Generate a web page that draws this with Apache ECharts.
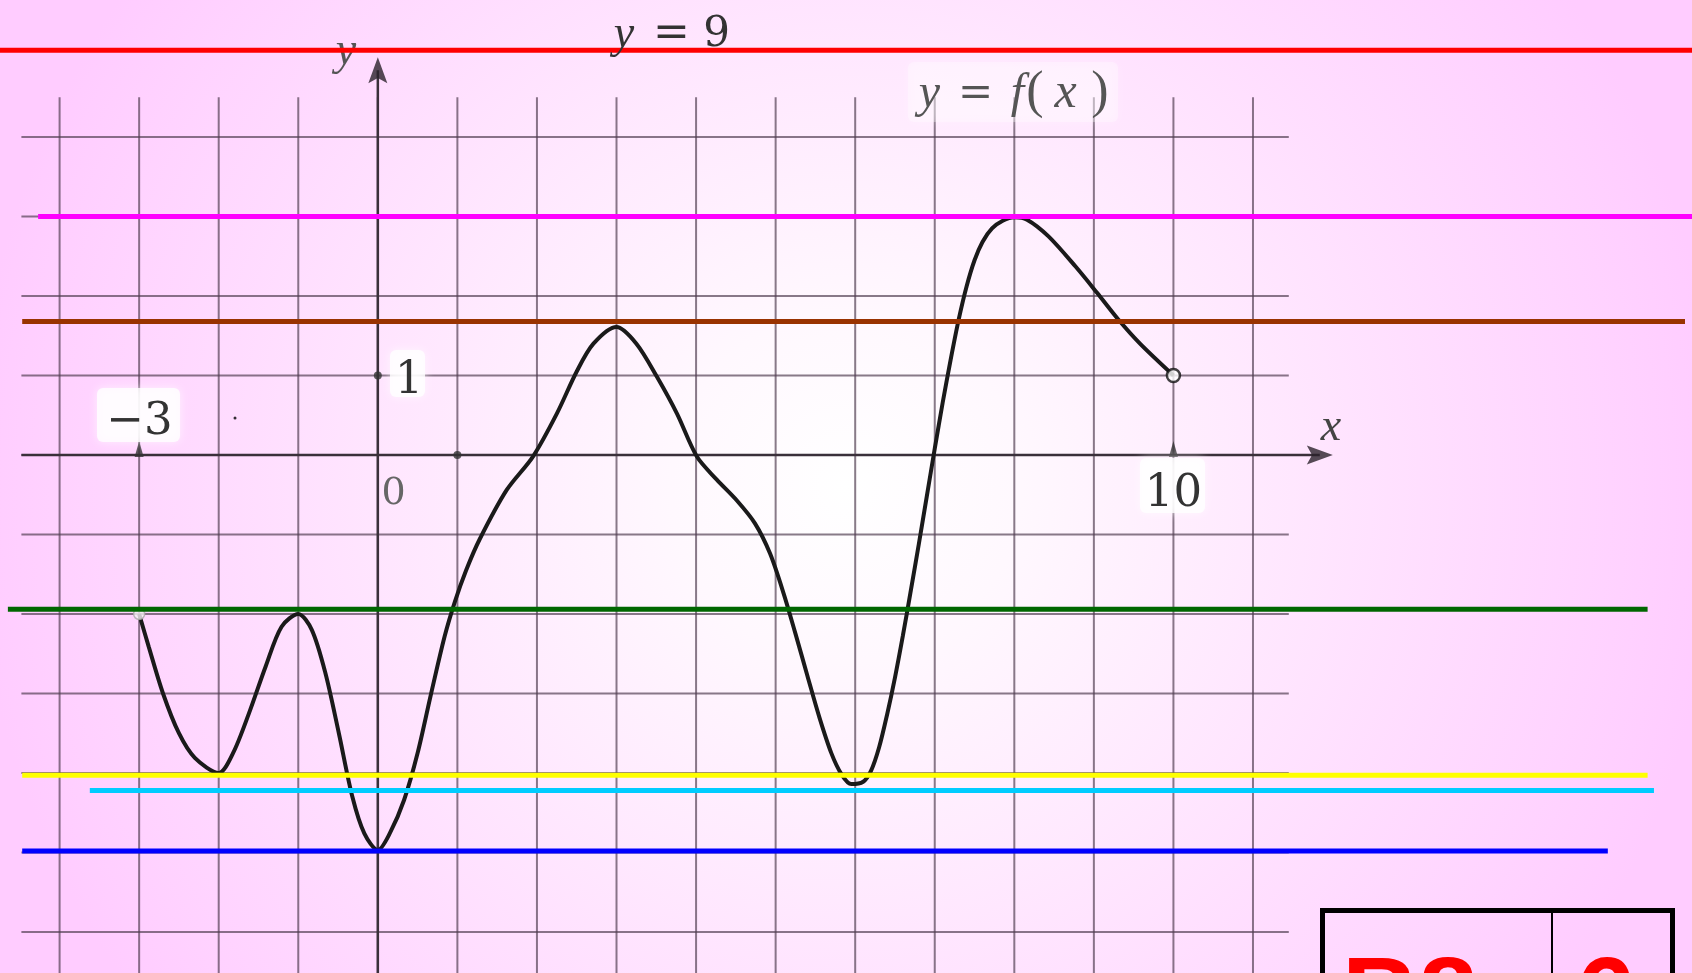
<!DOCTYPE html>
<html>
<head>
<meta charset="utf-8">
<script src="https://cdn.jsdelivr.net/npm/echarts@6/dist/echarts.min.js"></script>
<style>
  html, body { margin: 0; padding: 0; }
  #chart { width: 1692px; height: 973px; }
</style>
</head>
<body>
<div id="chart"></div>
<script>
// график y = f(x), одна клетка = одна единица
const curveX = [-3, -2.88, -2.7, -2.5, -2.3, -2, -1.82, -1.62, -1.41, -1.21, -1, -0.83, -0.66, -0.49, -0.32,
  -0.17, 0, 0.15, 0.33, 0.5, 0.67, 0.84, 0.97, 1.11, 1.28, 1.62, 1.95, 2.25, 2.5, 2.71, 3, 3.25, 3.51, 3.76,
  4.01, 4.26, 4.51, 4.74, 4.93, 5.1, 5.25, 5.4, 5.55, 5.7, 5.83, 5.95, 6.1, 6.2, 6.3, 6.4, 6.5, 6.6, 6.7,
  6.8, 6.9, 7, 7.1, 7.2, 7.3, 7.4, 7.5, 7.6, 7.72, 7.86, 8, 8.16, 8.43, 8.77, 9.04, 9.31, 9.58, 10];
const curveY = [-2, -2.41, -3, -3.5, -3.81, -4, -3.75, -3.25, -2.66, -2.16, -2, -2.2, -2.74, -3.5, -4.3,
  -4.76, -4.97, -4.76, -4.34, -3.75, -3, -2.28, -1.84, -1.45, -1.06, -0.44, -0.02, 0.52, 1.05, 1.4, 1.61, 1.4,
  0.98, 0.52, -0.02, -0.31, -0.57, -0.86, -1.24, -1.74, -2.25, -2.78, -3.3, -3.75, -4.02, -4.14, -4.11, -3.97,
  -3.68, -3.27, -2.8, -2.27, -1.7, -1.12, -0.52, 0.08, 0.66, 1.2, 1.7, 2.12, 2.45, 2.68, 2.85, 2.95, 2.99,
  2.96, 2.75, 2.37, 2.04, 1.7, 1.4, 1];

// концы графика: (-3; -2) и (10; 1) - выколотые
const openPoints = [[-3, -2], [10, 1]];

// цветные горизонтальные прямые y = a
const levelY = [5.09, 3.0, 1.68, -1.94, -4.03, -4.22, -4.98];
const levelFrom = [-4.75, -4.27, -4.47, -4.65, -4.47, -3.62, -4.47];
const levelTo = [16.52, 16.52, 16.43, 15.96, 15.96, 16.04, 15.46];
const levelColors = ['#ff0000', '#ff00ff', '#993300', '#006600', '#ffff00', '#00ccff', '#0000ff'];

// клетки
const gridXs = [-4, -3, -2, -1, 0, 1, 2, 3, 4, 5, 6, 7, 8, 9, 10, 11];
const gridYs = [-6, -5, -4, -3, -2, -1, 0, 1, 2, 3, 4];

// отметки на осях
const axisDots = [[1, 0], [0, 1]];
const axisTicks = [[-3, 0], [10, 0]];

// видимая область в единицах графика (весь холст)
const xMin = -4.749, xMax = 16.518, yMin = -6.516, yMax = 5.723;
const cellLeft = -4.48, cellRight = 11.45, cellTop = 4.5, cellBottom = -7;

const SERIF = '"Liberation Serif"';
const DEJAVU = '"DejaVu Serif"';
const ARROW = 'path://M0,0 L6,20 L0,16 L-6,20 Z';

const chart = echarts.init(document.getElementById('chart'));

const seg = (data, color, width, z) => ({
  type: 'line', data, symbol: 'none', silent: true, z,
  lineStyle: { color, width }
});

const series = [];
gridXs.forEach(x => series.push(seg([[x, cellBottom], [x, cellTop]], 'rgba(80,60,80,0.68)', 2, 1)));
gridYs.forEach(y => series.push(seg([[cellLeft, y], [cellRight, y]], 'rgba(80,60,80,0.68)', 2, 1)));

// оси
series.push(seg([[cellLeft, 0], [11.84, 0]], '#3a303a', 2.5, 2));
series.push(seg([[0, cellBottom], [0, 4.84]], '#3a303a', 2.5, 2));
series.push({
  type: 'scatter', silent: true, z: 2, symbol: ARROW, symbolSize: [19, 26],
  itemStyle: { color: '#2a222a' },
  data: [{ value: [11.84, 0], symbolRotate: -90 }, { value: [0, 4.84], symbolRotate: 0 }]
});
series.push({
  type: 'scatter', silent: true, z: 2, symbol: 'circle', symbolSize: 8,
  itemStyle: { color: '#333' }, data: axisDots
});
series.push({
  type: 'scatter', silent: true, z: 2, symbol: 'triangle', symbolSize: [9, 16], symbolOffset: [0, -6],
  itemStyle: { color: '#333' }, data: axisTicks
});
series.push({
  type: 'scatter', silent: true, z: 2, symbol: 'circle', symbolSize: 3,
  itemStyle: { color: '#000' }, data: [[-1.795, 0.465]]
});

// сам график
series.push({
  type: 'line', silent: true, z: 5, symbol: 'none',
  smooth: 0.3,
  lineStyle: { color: '#1a1a1a', width: 4 },
  data: curveX.map((x, i) => [x, curveY[i]])
});
series.push({
  type: 'scatter', silent: true, z: 6, symbol: 'circle',
  data: [
    { value: openPoints[0], symbolSize: 11, itemStyle: { color: '#f6f0f6', borderColor: '#aaa', borderWidth: 1.5 } },
    { value: openPoints[1], symbolSize: 13, itemStyle: { color: '#ffffff', borderColor: '#111', borderWidth: 2.5 } }
  ]
});

levelY.forEach((y, i) => series.push(seg([[levelFrom[i], y], [levelTo[i], y]], levelColors[i], 5, 7)));

// подписи
const txt = (s, cx, baseline, size, family, o = {}) => ({
  type: 'text', z: o.z || 4, silent: true,
  style: {
    text: s, x: cx, y: baseline - 0.73 * size,
    textAlign: o.align || 'center', align: o.align || 'center',
    textVerticalAlign: 'top', verticalAlign: 'top',
    font: (o.italic ? 'italic ' : '') + (o.bold ? 'bold ' : '') + size + 'px ' + family,
    fill: o.color || '#333'
  }
});
const box = (x, y, w, h, a) => ({
  type: 'rect', z: 3, silent: true,
  shape: { x, y, width: w, height: h, r: 6 },
  style: { fill: 'rgba(255,255,255,' + a + ')', shadowBlur: 10, shadowColor: 'rgba(255,255,255,0.8)' }
});

const graphic = [
  box(97, 388, 83, 54, 0.8),
  box(390, 350, 35, 47, 0.8),
  box(1140, 458, 65, 55, 0.8),
  box(908, 62, 210, 60, 0.3),
  txt('y', 346, 62, 46, SERIF, { italic: true, color: '#555' }),
  txt('y', 624, 45, 46, SERIF, { italic: true, z: 8 }),
  txt('=', 671.5, 45, 44, DEJAVU, { z: 8 }),
  txt('9', 716.5, 45, 42, DEJAVU, { z: 8 }),
  txt('y', 929.5, 105, 48, SERIF, { italic: true, color: '#555' }),
  txt('=', 975.5, 105, 42, DEJAVU, { color: '#555' }),
  txt('f', 1017.5, 105, 48, SERIF, { italic: true, color: '#555' }),
  txt('(', 1035, 105, 52, SERIF, { color: '#555' }),
  txt('x', 1065.5, 105, 50, SERIF, { italic: true, color: '#555' }),
  txt(')', 1100, 105, 52, SERIF, { color: '#555' }),
  txt('\u22123', 139.5, 433, 45, DEJAVU),
  txt('1', 409, 392, 44, DEJAVU),
  txt('0', 393.5, 503, 38, DEJAVU, { color: '#666' }),
  txt('10', 1173.5, 505, 45, DEJAVU),
  txt('x', 1331, 438, 46, SERIF, { italic: true, color: '#444' }),
  // табличка с ответом
  {
    type: 'rect', z: 8, silent: true,
    shape: { x: 1322.5, y: 910.5, width: 350, height: 100 },
    style: { fill: 'none', stroke: '#000', lineWidth: 5 }
  },
  {
    type: 'line', z: 8, silent: true,
    shape: { x1: 1552, y1: 912, x2: 1552, y2: 980 },
    style: { stroke: '#000', lineWidth: 2 }
  },
  txt('В8', 1342, 1026, 106, '"Liberation Sans"', { bold: true, color: '#ff0000', align: 'left', z: 8 }),
  txt('6', 1576, 1026, 106, '"Liberation Sans"', { bold: true, color: '#ff0000', align: 'left', z: 8 })
];

chart.setOption({
  animation: false,
  backgroundColor: new echarts.graphic.RadialGradient(0.5, 0.5, 0.9, [
    { offset: 0, color: '#ffffff' },
    { offset: 0.2, color: '#fff8fe' },
    { offset: 1, color: '#ffccff' }
  ]),
  grid: { left: 0, right: 0, top: 0, bottom: 0 },
  xAxis: { type: 'value', min: xMin, max: xMax, show: false },
  yAxis: { type: 'value', min: yMin, max: yMax, show: false },
  series,
  graphic
});
</script>
</body>
</html>
